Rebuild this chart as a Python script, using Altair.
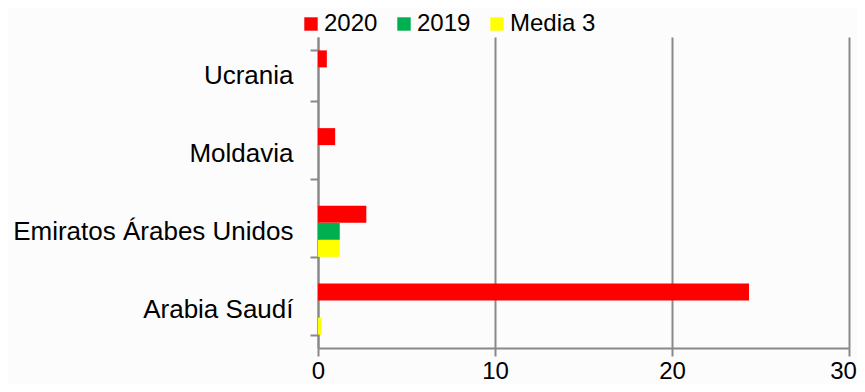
import altair as alt
import pandas as pd

countries = ["Ucrania", "Moldavia", "Emiratos Árabes Unidos", "Arabia Saudí"]
series = ["2020", "2019", "Media 3"]
colors = ["#FF0000", "#00B050", "#FFFF00"]
v2020 = [0.5, 0.97, 2.73, 24.35]
v2019 = [0.0, 0.0, 1.23, 0.0]
vmedia = [0.0, 0.0, 1.23, 0.2]
x_ticks = [0, 10, 20, 30]

rows = []
for i, c in enumerate(countries):
    for s, vals in zip(series, [v2020, v2019, vmedia]):
        rows.append({"country": c, "series": s, "value": vals[i]})
df = pd.DataFrame(rows)

FONT = "Liberation Sans"
GREY = "#898989"

chart = alt.Chart(df).mark_bar().encode(
    y=alt.Y("country:N", sort=countries, title=None,
            scale=alt.Scale(paddingInner=0.344, paddingOuter=0.172),
            axis=alt.Axis(tickBand="extent", tickSize=8, tickWidth=2, tickColor=GREY,
                          domainColor=GREY, domainWidth=2, grid=False,
                          labelFontSize=26, labelFont=FONT, labelColor="#000000",
                          labelPadding=17, labelLimit=400)),
    yOffset=alt.YOffset("series:N", sort=series, scale=alt.Scale(paddingInner=0, paddingOuter=0)),
    x=alt.X("value:Q", title=None,
            scale=alt.Scale(domain=[0, 30], nice=False),
            axis=alt.Axis(values=x_ticks, tickSize=8, tickWidth=2, tickColor=GREY,
                          domainColor=GREY, domainWidth=2, grid=True, gridColor=GREY,
                          gridWidth=2, labelFontSize=24, labelFont=FONT,
                          labelColor="#000000", labelBaseline="alphabetic",
                          labelPadding=22, labelFlush=False,
                          labelOffset={"condition": {"test": "datum.value == 30", "value": -6}, "value": 0})),
    color=alt.Color("series:N", sort=series,
                    scale=alt.Scale(domain=series, range=colors),
                    legend=alt.Legend(title=None, orient="none", direction="horizontal",
                                      legendX=-19, legendY=-25, symbolType="square",
                                      symbolSize=180, symbolStrokeWidth=0,
                                      labelFontSize=24, labelFont=FONT, labelColor="#000000",
                                      labelOffset=1, columnPadding=14, symbolOpacity=1)),
).properties(
    width=531, height=311,
    autosize=alt.AutoSizeParams(type="none"),
    padding={"left": 310, "top": 29, "right": 8, "bottom": 36},
    background="#FCFCFC",
).configure_view(stroke=None)

chart.save("out.html", embed_options={"renderer": "svg", "actions": False})
